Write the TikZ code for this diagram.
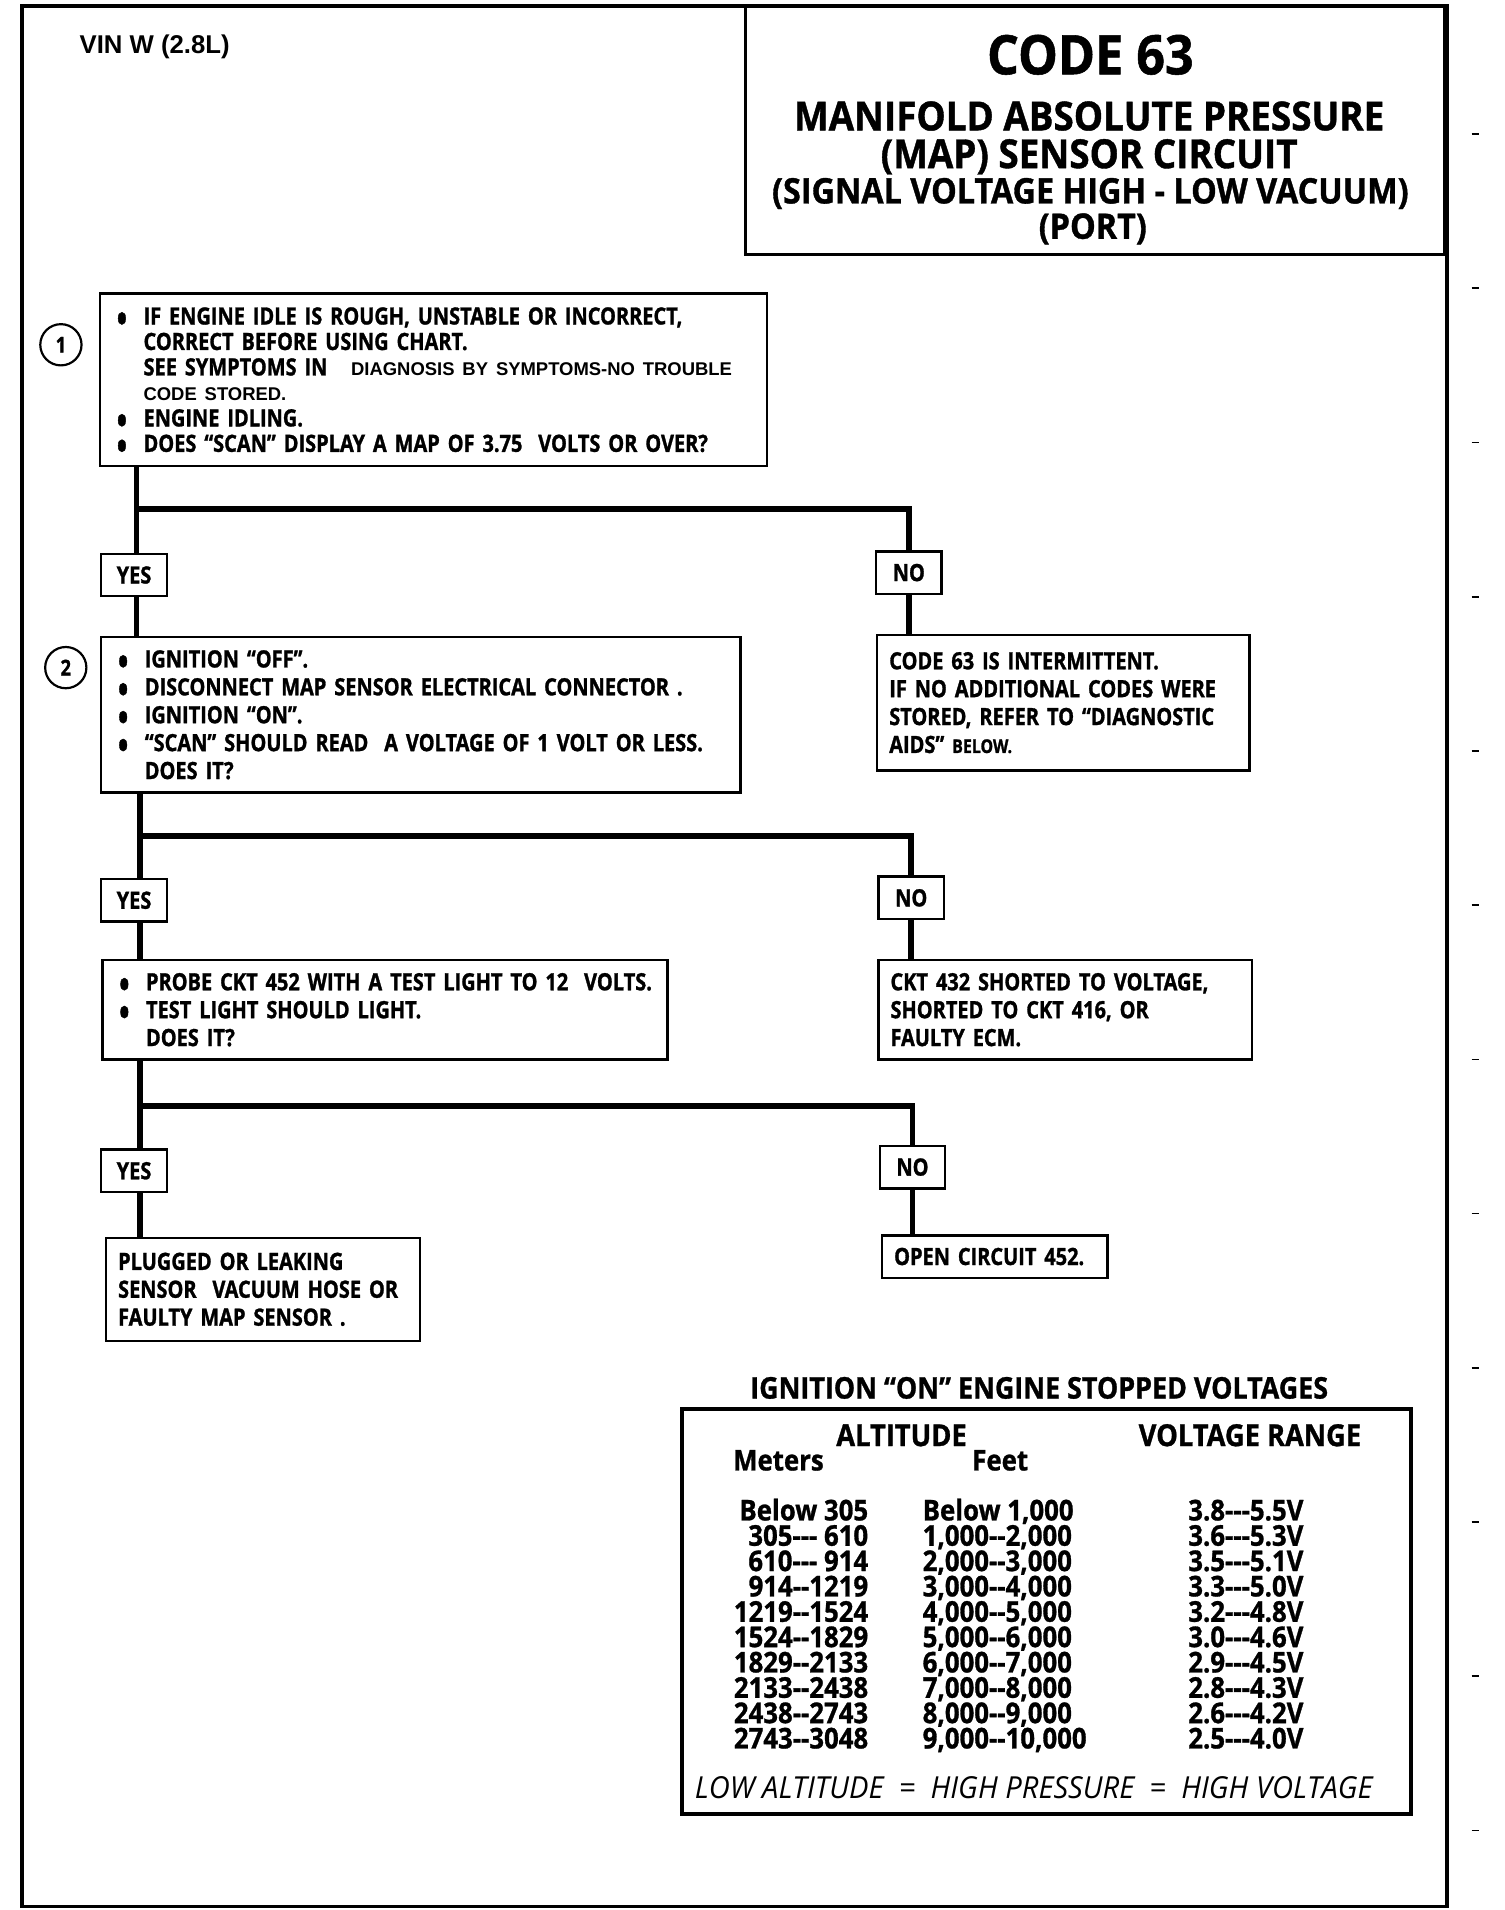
\documentclass[tikz,border=0pt]{standalone}
\usepackage{fontspec}
\setmainfont{Open Sans}
\newfontfamily\condfont[FakeStretch=0.84,FakeBold=1.2]{Open Sans}
\newfontfamily\headfont[FakeStretch=0.92,FakeBold=1]{Open Sans}
\newfontfamily\tabfont[FakeStretch=0.9,FakeBold=1]{Open Sans}
\newfontfamily\lowfont[FakeStretch=0.96]{Open Sans}
\newfontfamily\arialfont{Liberation Sans}
\usetikzlibrary{positioning}

\newcommand\hy{\mbox{-}}
\newcommand\bul{\makebox[11pt][l]{\raisebox{-3.4pt}[3pt][0pt]{\scalebox{1.1}[1.35]{\fontsize{12}{0}\selectfont\textbullet}}}}
\newcommand\ind{\hspace*{11pt}}
\newcommand\smallarial{\arialfont\bfseries\fontsize{7.6}{11}\selectfont}

\begin{document}
\begin{tikzpicture}[x=0.5022pt,y=-0.5022pt,
  txt/.style={font=\condfont\bfseries\fontsize{9.8}{11.5}\selectfont},
  qbox/.style={txt,draw,line width=1pt,anchor=north west,inner xsep=7pt,inner ysep=0pt,align=left},
  abox/.style={txt,draw,line width=1pt,anchor=north west,inner xsep=5pt,inner ysep=0pt,align=left},
  yesno/.style={txt,draw,line width=1pt,fill=white,minimum width=27pt,minimum height=17.5pt,inner sep=0pt},
  trunk/.style={line width=2.3pt},
  ttl/.style={anchor=base,font=\headfont\bfseries\fontsize{#1}{#1}\selectfont,inner sep=0pt},
  cell/.style={font=\tabfont\bfseries\fontsize{11.8}{11.8}\selectfont,inner sep=0pt},
  stepno/.style={circle,draw,line width=0.9pt,minimum size=17pt,inner sep=0pt,font=\condfont\bfseries\fontsize{9}{9}\selectfont}
]
\useasboundingbox (0pt,0pt) rectangle (620pt,-787.35pt);

% Page frame and title block
\draw[line width=1.5pt] (18,5) rectangle (1188,1565);
\draw[line width=1.2pt] (612,5) rectangle (1186,209);
\node[anchor=base west,inner sep=0pt,font=\arialfont\bfseries\fontsize{10.6}{10.6}\selectfont] (vin) at (65,44) {VIN W (2.8L)};
\node[ttl=22.5] (t1) at (895,61) {CODE 63};
\node[ttl=16.5] (t2) at (894,107) {MANIFOLD ABSOLUTE PRESSURE};
\node[ttl=16.5] (t3) at (894,138) {(MAP) SENSOR CIRCUIT};
\node[ttl=14.5] (t4) at (895,167) {(SIGNAL VOLTAGE HIGH - LOW VACUUM)};
\node[ttl=14.5] (t5) at (897,196) {(PORT)};

% Step 1
\node[stepno] (s1) at (50,283) {1};
\node[qbox,text width=261pt,minimum height=71pt,font=\condfont\bfseries\fontsize{9.8}{10.5}\selectfont] (q1) at (81,240)
  {\bul IF ENGINE IDLE IS ROUGH, UNSTABLE OR INCORRECT,\\
   \ind CORRECT BEFORE USING CHART.\\
   \ind SEE SYMPTOMS IN\quad{\smallarial DIAGNOSIS BY SYMPTOMS-NO TROUBLE}\\
   \ind{\smallarial CODE STORED.}\\
   \bul ENGINE IDLING.\\
   \bul DOES “SCAN” DISPLAY A MAP OF 3.75\ \ VOLTS OR OVER?};

\coordinate (b1) at (112,418);
\node[yesno] (yes1) at (110,472) {YES};
\node[yesno] (no1) at (746,470) {NO};

% Step 2
\node[stepno] (s2) at (54,548) {2};
\node[qbox,text width=249.5pt,minimum height=64pt] (q2) at (82,522)
  {\bul IGNITION “OFF”.\\
   \bul DISCONNECT MAP SENSOR ELECTRICAL CONNECTOR .\\
   \bul IGNITION “ON”.\\
   \bul “SCAN” SHOULD READ\ \ A VOLTAGE OF 1 VOLT OR LESS.\\
   \ind DOES IT?};
\node[abox,text width=143.5pt,minimum height=56pt] (a1) at (719,520)
  {CODE 63 IS INTERMITTENT.\\
   IF NO ADDITIONAL CODES WERE\\
   STORED, REFER TO “DIAGNOSTIC\\
   AIDS” {\fontsize{7.8}{11.5}\selectfont BELOW.}};

\coordinate (b2) at (115,686);
\node[yesno] (yes2) at (110,739) {YES};
\node[yesno] (no2) at (748,737) {NO};

% Step 3
\node[qbox,text width=219pt,minimum height=41pt] (q3) at (83,787)
  {\mbox{\bul PROBE CKT 452 WITH A TEST LIGHT TO 12\ \ VOLTS.}\\
   \bul TEST LIGHT SHOULD LIGHT.\\
   \ind DOES IT?};
\node[abox,text width=144pt,minimum height=41pt] (a2) at (720,787)
  {CKT 432 SHORTED TO VOLTAGE,\\
   SHORTED TO CKT 416, OR\\
   FAULTY ECM.};

\coordinate (b3) at (115,908);
\node[yesno] (yes3) at (110,961) {YES};
\node[yesno] (no3) at (749,958) {NO};

% Results
\node[abox,text width=119.5pt,minimum height=42.5pt] (a3) at (86,1015)
  {PLUGGED OR LEAKING\\
   SENSOR\ \ VACUUM HOSE OR\\
   FAULTY MAP SENSOR .};
\node[abox,text width=83pt,minimum height=17.5pt] (a4) at (723,1013) {OPEN CIRCUIT 452.};

% Connectors
\draw[trunk] (q1.south -| b1) -- (b1 |- yes1.north);
\draw[trunk] (b1) -| (no1.north);
\draw[trunk] (b1 |- yes1.south) -- (b1 |- q2.north);
\draw[trunk] (no1.south) -- (no1.south |- a1.north);
\draw[trunk] (q2.south -| b2) -- (b2 |- yes2.north);
\draw[trunk] (b2) -| (no2.north);
\draw[trunk] (b2 |- yes2.south) -- (b2 |- q3.north);
\draw[trunk] (no2.south) -- (no2.south |- a2.north);
\draw[trunk] (q3.south -| b3) -- (b3 |- yes3.north);
\draw[trunk] (b3) -| (no3.north);
\draw[trunk] (b3 |- yes3.south) -- (b3 |- a3.north);
\draw[trunk] (no3.south) -- (no3.south |- a4.north);

% Voltage table
\node[anchor=base,inner sep=0pt,font=\tabfont\bfseries\fontsize{12.3}{12.3}\selectfont] (tt) at (853,1148) {IGNITION “ON” ENGINE STOPPED VOLTAGES};
\node[draw,line width=1.6pt,anchor=north west,minimum width=300.5pt,minimum height=167pt,inner sep=0pt] (tbl) at (558,1155) {};
\node[cell,anchor=base,font=\tabfont\bfseries\fontsize{12.5}{12.5}\selectfont] (alt) at (740,1187) {ALTITUDE};
\node[cell,anchor=base,font=\tabfont\bfseries\fontsize{12.5}{12.5}\selectfont] (vr) at (1026,1187) {VOLTAGE RANGE};
\node[cell,anchor=base] (hm) at (639,1207) {Meters};
\node[cell,anchor=base] (hf) at (821,1207) {Feet};
\foreach \m/\f/\v [count=\i from 0] in {
  {Below 305}/{Below 1,000}/{3.8\hy\hy\hy5.5V},
  {305\hy\hy\hy\ 610}/{1,000\hy\hy2,000}/{3.6\hy\hy\hy5.3V},
  {610\hy\hy\hy\ 914}/{2,000\hy\hy3,000}/{3.5\hy\hy\hy5.1V},
  {914\hy\hy1219}/{3,000\hy\hy4,000}/{3.3\hy\hy\hy5.0V},
  {1219\hy\hy1524}/{4,000\hy\hy5,000}/{3.2\hy\hy\hy4.8V},
  {1524\hy\hy1829}/{5,000\hy\hy6,000}/{3.0\hy\hy\hy4.6V},
  {1829\hy\hy2133}/{6,000\hy\hy7,000}/{2.9\hy\hy\hy4.5V},
  {2133\hy\hy2438}/{7,000\hy\hy8,000}/{2.8\hy\hy\hy4.3V},
  {2438\hy\hy2743}/{8,000\hy\hy9,000}/{2.6\hy\hy\hy4.2V},
  {2743\hy\hy3048}/{9,000\hy\hy10,000}/{2.5\hy\hy\hy4.0V}}
{
  \node[cell,anchor=base east] (m\i) at (713,1248+20.8*\i) {\m};
  \node[cell,anchor=base west] (f\i) at (757,1248+20.8*\i) {\f};
  \node[cell,anchor=base west] (v\i) at (975,1248+20.8*\i) {\v};
}
\node[anchor=base west,inner sep=0pt,font=\lowfont\itshape\fontsize{12.5}{12.5}\selectfont] (low) at (570,1476)
  {LOW ALTITUDE\ \ =\ \ HIGH PRESSURE\ \ =\ \ HIGH VOLTAGE};

% Margin ticks
\foreach \k in {0,...,11}
  \draw[line width=0.7pt] (1208,110+126.6*\k) -- (1214,110+126.6*\k);

\end{tikzpicture}
\end{document}
